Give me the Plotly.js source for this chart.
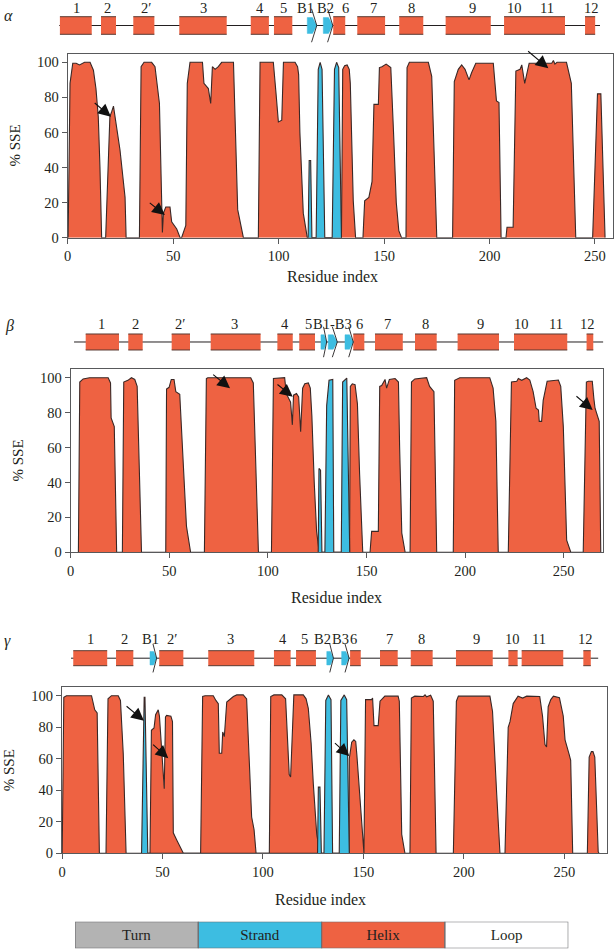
<!DOCTYPE html>
<html><head><meta charset="utf-8">
<script src="https://cdn.plot.ly/plotly-3.0.1.min.js"></script>
<style>html,body{margin:0;padding:0;background:#fff}#chart{width:614px;height:949px}</style>
</head><body><div id="chart"></div>
<script>
// ===== DATA (residue index, % SSE) =====
const alphaHelix = [[0.2,0],[1.1,88],[2.4,99.5],[4,99.5],[5.6,98.5],[8,100],[10.6,100],[12.2,95.5],[13.4,85],[14.5,69],[15.3,40],[16.1,0],
 [18,0],[20,69],[20.9,72],[21.7,75],[24.8,50],[27.2,23],[27.7,0],
 [34,0],[34.8,97.5],[36.2,100],[39.8,100],[41.4,97.5],[43.5,76.5],[44.9,3],[45.4,14],[46.5,17.5],[48.5,17.5],[49.3,9],[51.7,5],[53.3,0],
 [54,0],[54.8,3],[56,7],[56.7,88],[58,100],[63.9,100],[64.6,88],[66.7,85],[67.8,76.5],[68.6,97.5],[69.9,96],[71.4,97.5],[73,100],[78.6,100],[80.6,16],[83.3,0],
 [90.4,0],[91.2,100],[97.5,100],[98.8,82],[99.9,66],[101.5,67],[102.3,100],[107.8,100],[109,97.5],[109.5,93],[110.1,60],[111.7,14],[113.3,2.5],[113.6,0],
 [129.8,0],[130.4,96],[131.3,98],[132.5,98.5],[133.5,96],[134,88],[135.4,21],[136.5,0],
 [140,0],[140.8,21],[142.8,23],[144.3,32],[145.2,76],[147.3,76],[147.8,97],[149,97.5],[151,99],[153.2,97],[154.5,60],[155.8,20],[157,4],[158.3,0],
 [160.4,0],[160.9,97],[162,100],[171,100],[172.6,92],[175,0],
 [182.5,0],[183.3,89],[185.2,96],[186.8,98.5],[188.4,96],[190.3,90],[191.5,94],[193.5,99.5],[201.8,99.5],[203.3,78],[204.5,77],[205.5,0],
 [207.8,0],[208.3,6],[211.2,6],[212.5,95],[214.5,96],[215.3,98.5],[216.7,88],[218.8,99.5],[229.5,99.5],[230.3,101],[231,99],[232,100],[236.5,100],[238.8,88],[240.9,0],
 [248.9,0],[251.2,82],[252.8,82],[254.8,0]];
const alphaStrand = [[114,0],[114.5,44],[115.2,44],[115.8,0],
 [117.8,0],[118.8,96],[119.7,100],[120.6,96],[121.9,0],
 [125.4,0],[126.5,96],[127.5,100],[128.5,97],[129.8,0]];

const betaHelix = [[3.9,0],[4.6,97.5],[6.3,99.3],[9.5,100],[19,100],[20.2,97],[20.5,77],[21.6,74],[22.1,72],[23.3,0],
 [26.2,0],[26.9,97.5],[29,98.5],[30.8,100],[32.5,99],[33.7,95],[35.9,0],
 [48.2,0],[48.6,93.5],[49.9,94.5],[51,99],[52.4,99],[53.3,92],[55.3,90.5],[58.7,15],[60.8,0],
 [67.8,0],[68.8,99.5],[69.5,100],[91.3,100],[92.6,97],[95.2,0],
 [101.8,0],[102.8,99.5],[108.5,100],[109.3,91],[110.5,88],[111.5,86],[112.4,73],[113,90],[114.5,91],[115.6,89],[116.6,69],[117.6,94],[118.7,96.5],[120.5,97],[121.5,94],[122.3,78],[123.5,40],[124.7,12],[126,0],
 [141.4,0],[141.8,95],[142.8,96.5],[144.2,96],[145.4,85],[146.5,45],[148.1,0],
 [151.8,0],[152.6,12],[156,12],[156.7,95],[157.7,95.5],[159.4,99],[160.2,94],[161.6,99],[164.5,99.5],[166.2,97.5],[166.8,60],[167.9,11],[169.6,0],
 [172.1,0],[172.8,97.5],[174.5,99.3],[180.5,100],[182,95],[184.2,92],[185.6,0],
 [194,0],[194.7,98.5],[197.3,100],[212.5,100],[214.2,94],[215.6,75],[216.8,0],
 [221.9,0],[223.5,97.5],[226.2,98],[227,99.5],[228.7,98.5],[231.2,100],[232.8,98.7],[234.5,92],[236,82.5],[237.2,81.5],[237.6,75],[238.8,75],[239.6,87],[241.6,98],[247.3,98.7],[248.5,95],[249.8,72],[251.5,7],[253.6,0],
 [259.9,0],[261.5,97.5],[262.5,98],[264.5,98],[265.3,88],[265.9,82.5],[268,75],[268.8,0]];
const betaStrand = [[125.5,0],[125.9,48],[126.7,47],[127.4,0],
 [128.9,0],[129.8,84],[131,98.5],[132.9,99],[133.4,0],
 [137.2,0],[137.9,97.5],[140,99.8],[141.5,0]];

const gammaHelix = [[0.1,0],[0.9,99],[2.2,100],[14.7,100],[16.3,91],[17.5,89],[18.6,0],
 [21.9,0],[22.9,98],[24.6,100],[28,100],[29.1,97],[30.5,63],[31.9,0],
 [43.8,0],[44.5,78],[45.8,79.5],[46.6,88],[47.9,91],[48.5,87],[50.9,41],[51.5,86.5],[52.1,87.5],[54.2,87],[55,83.5],[55.4,13],[57.1,8.5],[58.7,4],[60.4,0],
 [69,0],[70,99.5],[71.2,100],[75.3,100],[76.6,97],[77.8,95],[78.3,63.5],[79.5,63.5],[80,77],[80.8,74],[82,96],[83.3,97.5],[85.3,99.5],[87,100.5],[90.2,100.5],[91.9,98],[94.4,23],[95.6,15],[96.6,0],
 [103.2,0],[103.9,99.5],[105.5,100.5],[109.4,100.5],[111.3,98],[112.6,55],[113.1,50],[113.8,48.5],[115.4,100.5],[120.1,100.5],[121.5,98],[122.6,92],[124,70],[125.1,44],[126.8,12],[128.4,0],
 [142.9,0],[143,60],[144.2,70.5],[145.3,72],[146.2,71],[146.8,62],[148.3,34],[150,0],
 [150.3,0],[151.1,97.5],[154.1,97.5],[154.6,98.5],[155.3,81],[157.4,81],[158.3,96.5],[160.7,99.7],[167.3,99.7],[167.9,96.5],[168.6,50],[169.1,12],[170.7,0],
 [173.2,0],[173.9,98.5],[175.6,99.7],[179.9,99.5],[180.7,100.5],[181.5,99.3],[183.5,100.3],[184.8,96.5],[185.5,50],[186.2,0],
 [194.8,0],[196.3,96.5],[197.3,99.7],[213,99.7],[214.3,90],[215.2,65],[216.4,37],[218,0],
 [220.5,0],[222.1,80],[223,83.5],[224.6,95],[227,99.7],[229.3,98.5],[231.3,99.7],[237.8,99.5],[239.2,87],[240.4,69],[241.2,67.5],[242,93],[243.3,97.5],[244.6,99.7],[247.6,98.7],[249.5,87],[250.4,72],[252.5,62.5],[253.2,59],[254.2,0],
 [261.5,0],[262.4,61],[263.5,64.5],[264.3,64.5],[265.2,61],[266.9,1],[267.3,0]];
const gammaStrand = [[39.6,0],[40.9,99],[41.3,99],[42.7,0],
 [127.2,0],[127.6,42],[128.4,42],[129.1,0],
 [130.4,0],[131.3,97],[132.6,100.5],[133.9,97.5],[134.7,0],
 [138,0],[138.8,97],[140.5,100.5],[141.7,97.5],[143,0]];

// secondary-structure schematics (residue start, end)
const alphaBackbone = [-4, 252.4];
const alphaHelixSeg = [[-3.7,11.4],[15.8,22.9],[31.1,41.1],[52.9,75.4],[86.8,95.4],[97.8,106.5],[125.9,131.6],[137.3,150.5],[157.2,168.6],[179.2,200.6],[206.9,235.8],[245.3,250.1]];
const alphaStrandSeg = [[113.6,118.1],[121.2,125.7]];
const alphaLabels = ['1','2','2\u2032','3','4','5','B1','B2','6','7','8','9','10','11','12'];
const alphaLabelPos = [4.3,18.8,37,64.6,91.2,102.2,112.8,122,131.5,145.2,163.1,191.8,212,227.4,248.5];

const betaBackbone = [1.7, 270];
const betaHelixSeg = [[7.6,24.5],[29.2,36.5],[51.2,60.5],[71,96.3],[104.8,112.6],[115.9,123.9],[143.3,148.9],[154.3,168.4],[174.6,185.6],[196.2,217.2],[224.8,251.8],[261.6,265]];
const betaStrandSeg = [[126.9,129.8],[130.6,135.2],[139.1,143.3]];
const betaLabels = ['1','2','2\u2032','3','4','5','B1-B3','6','7','8','9','10','11','12'];
const betaLabelPos = [15.7,33,55.4,83.3,108.7,120.5,132.8,146.3,160.8,179.7,207.6,228.7,246.1,262];

const gammaBackbone = [4.5, 266.9];
const gammaHelixSeg = [[5.6,22.5],[26.9,35.5],[48.4,60.4],[72.8,95.7],[105.5,113.8],[116.5,126.4],[143.4,148.7],[158.3,167.1],[173.6,184.5],[196.1,214.4],[222.2,226.8],[228.8,249.5],[259.5,263.2]];
const gammaStrandSeg = [[43.8,47.1],[131.8,135.1],[139.2,142.9]];
const gammaLabels = ['1','2','B1','2\u2032','3','4','5','B2','B3','6','7','8','9','10','11','12'];
const gammaLabelPos = [14.3,31,44.1,54.6,84,109.8,120.9,129.7,138.4,145.3,162.9,179,206.4,224.3,237.6,260.8];

// arrows: tail (x,y) -> head (x,y)
const alphaArrowTail = [[12.1,77.5],[38.2,20.5],[217.6,107]];
const alphaArrowHead = [[20.5,69],[46.1,12.9],[227.9,96.6]];
const betaArrowTail = [[71.5,102.5],[104.1,96.8],[255.7,90.1]];
const betaArrowHead = [[80.8,93.9],[112.6,89.1],[264.7,81.5]];
const gammaArrowTail = [[31.4,94.1],[44.6,69.8],[135.1,70.8]];
const gammaArrowHead = [[40.8,84.1],[52.9,60.3],[143,61.7]];

const xTicks = [0,50,100,150,200,250];
const yTicks = [0,20,40,60,80,100];
const legendLabels = ['Turn','Strand','Helix','Loop'];
const legendColors = ['#b3b3b3','#3dbde1','#ee6242','#ffffff'];

// ===== STYLE / LAYOUT =====
const W=614, H=949;
const HELIX='#ee6242', STRAND='#3dbde1', OUT='#3a2826', AX='#58595b';
const FONT="'Liberation Serif','DejaVu Serif',serif";
const fx=p=>p/W, fy=p=>1-p/H;

const panels = [
 {name:'\u03b1', helix:alphaHelix, strand:alphaStrand, bb:alphaBackbone, hs:alphaHelixSeg, ss:alphaStrandSeg, lab:alphaLabels, lp:alphaLabelPos, at:alphaArrowTail, ah:alphaArrowHead,
  x0:67.7, x1:613, s:2.109, top:54, bot:237.7, ys:1.754, sTop:16.7, sBot:34.3, lshift:0, greek:[8.5,15], tx:332, ty:276},
 {name:'\u03b2', helix:betaHelix, strand:betaStrand, bb:betaBackbone, hs:betaHelixSeg, ss:betaStrandSeg, lab:betaLabels, lp:betaLabelPos, at:betaArrowTail, ah:betaArrowHead,
  x0:70.7, x1:603.3, s:1.972, top:369.3, bot:552.3, ys:1.746, sTop:334, sBot:350, lshift:1, greek:[9,326], tx:336, ty:597},
 {name:'\u03b3', helix:gammaHelix, strand:gammaStrand, bb:gammaBackbone, hs:gammaHelixSeg, ss:gammaStrandSeg, lab:gammaLabels, lp:gammaLabelPos, at:gammaArrowTail, ah:gammaArrowHead,
  x0:62, x1:607.3, s:2.009, top:687.3, bot:853.3, ys:1.576, sTop:650.7, sBot:665.7, lshift:2.5, greek:[7.5,641], tx:320, ty:899}
];

const traces=[], annotations=[];
const layout = {width:W, height:H, margin:{l:0,r:0,t:0,b:0}, paper_bgcolor:'#fff', plot_bgcolor:'rgba(0,0,0,0)',
  showlegend:false, barmode:'overlay', font:{family:FONT, color:'#231f20'}};

panels.forEach((p,i)=>{
  const xa='x'+(i===0?'':(i+1)), ya='y'+(i===0?'':(i+1));
  const xs='x'+(i+4), ys='y'+(i+4);
  const xKey='xaxis'+(i===0?'':(i+1)), yKey='yaxis'+(i===0?'':(i+1));
  layout[xKey]={domain:[fx(p.x0),fx(p.x1)], range:[0,(p.x1-p.x0)/p.s], anchor:ya, showgrid:false, zeroline:false,
    showline:true, mirror:true, linecolor:AX, linewidth:1, ticks:'outside', ticklen:5, tickcolor:AX, tickwidth:1,
    tickvals:xTicks, tickfont:{family:FONT,size:14.5,color:'#231f20'}};
  layout[yKey]={domain:[fy(p.bot),fy(p.top)], range:[0,(p.bot-p.top)/p.ys], anchor:xa, showgrid:false, zeroline:false,
    showline:true, mirror:true, linecolor:AX, linewidth:1, ticks:'outside', ticklen:5, tickcolor:AX, tickwidth:1,
    tickvals:yTicks, tickfont:{family:FONT,size:14.5,color:'#231f20'}};
  const h=p.sBot-p.sTop;
  layout['xaxis'+(i+4)]={domain:[0,1], range:[(0-p.x0)/p.s,(W-p.x0)/p.s], anchor:ys, visible:false};
  layout['yaxis'+(i+4)]={domain:[fy(p.sBot+0.6*h),fy(p.sTop-0.6*h)], range:[-0.6,1.6], anchor:xs, visible:false};

  // area traces
  traces.push({type:'scatter', mode:'lines', x:p.helix.map(d=>d[0]), y:p.helix.map(d=>d[1]), fill:'tozeroy', fillcolor:HELIX,
    line:{color:OUT,width:1.1}, xaxis:xa, yaxis:ya, hoverinfo:'skip'});
  traces.push({type:'scatter', mode:'lines', x:p.strand.map(d=>d[0]), y:p.strand.map(d=>d[1]), fill:'tozeroy', fillcolor:STRAND,
    line:{color:OUT,width:1.1}, xaxis:xa, yaxis:ya, hoverinfo:'skip'});

  // schematic
  traces.push({type:'scatter', mode:'lines', x:p.bb, y:[0.5,0.5], line:{color:'#231f20',width:1}, xaxis:xs, yaxis:ys, hoverinfo:'skip'});
  const rx=[], ry=[], bx=[], by=[];
  p.hs.forEach(([s,e])=>{rx.push(s,s,e,e,s,null); ry.push(0,1,1,0,0,null); bx.push(s,e,null,s,e,null); by.push(1,1,null,0,0,null);});
  traces.push({type:'scatter', mode:'lines', x:rx, y:ry, fill:'toself', fillcolor:HELIX, line:{width:0,color:HELIX}, xaxis:xs, yaxis:ys, hoverinfo:'skip'});
  traces.push({type:'scatter', mode:'lines', x:bx, y:by, line:{color:'#5a3a32',width:1}, xaxis:xs, yaxis:ys, hoverinfo:'skip'});
  const ax=[], ay=[], tx=[], ty=[];
  p.ss.forEach(([s,e])=>{const w=e-s; ax.push(s,s,s+0.55*w,e,s+0.55*w,s,null); ay.push(0.05,0.95,0.95,0.5,0.05,0.05,null);
    tx.push(s+0.45*w,e,s+0.45*w,null); ty.push(1.45,0.5,-0.45,null);});
  traces.push({type:'scatter', mode:'lines', x:ax, y:ay, fill:'toself', fillcolor:STRAND, line:{width:0.5,color:STRAND}, xaxis:xs, yaxis:ys, hoverinfo:'skip'});
  traces.push({type:'scatter', mode:'lines', x:tx, y:ty, line:{color:'#231f20',width:0.9}, xaxis:xs, yaxis:ys, hoverinfo:'skip'});
  p.lab.forEach((t,k)=>annotations.push({text:t, x:p.lp[k], y:1, xref:xs, yref:ys, xanchor:'center', yanchor:'bottom', yshift:p.lshift,
    borderpad:0, showarrow:false, font:{family:FONT,size:14.5,color:'#231f20'}}));

  // arrows
  p.ah.forEach((hd,k)=>annotations.push({x:hd[0], y:hd[1], ax:p.at[k][0], ay:p.at[k][1], xref:xa, yref:ya, axref:xa, ayref:ya,
    showarrow:true, arrowhead:2, arrowsize:2.3, arrowwidth:1.1, arrowcolor:'#111', standoff:0, text:''}));

  // titles
  annotations.push({text:'% SSE', textangle:-90, x:fx(p.x0-53), y:fy((p.top+p.bot)/2), xref:'paper', yref:'paper',
    xanchor:'center', yanchor:'middle', showarrow:false, font:{family:FONT,size:15,color:'#231f20'}});
  annotations.push({text:'Residue index', x:fx(p.tx), y:fy(p.ty), xref:'paper', yref:'paper',
    xanchor:'center', yanchor:'middle', showarrow:false, font:{family:FONT,size:16,color:'#231f20'}});
  annotations.push({text:'<i>'+p.name+'</i>', x:fx(p.greek[0]), y:fy(p.greek[1]), xref:'paper', yref:'paper',
    xanchor:'center', yanchor:'middle', showarrow:false, font:{family:FONT,size:16,color:'#231f20'}});
});

// legend bar
layout.xaxis7={domain:[fx(75),fx(568.3)], range:[0,4], anchor:'y7', visible:false};
layout.yaxis7={domain:[fy(948.3),fy(921.7)], range:[-0.5,0.5], anchor:'x7', visible:false};
traces.push({type:'bar', orientation:'h', y:legendLabels.map(()=>0), x:legendLabels.map(()=>1), base:legendLabels.map((_,k)=>k),
  width:1, marker:{color:legendColors, line:{color:'#6d6e71',width:1.2}}, text:legendLabels, textposition:'inside',
  insidetextanchor:'middle', textangle:0, textfont:{family:FONT,size:15,color:'#231f20'}, xaxis:'x7', yaxis:'y7', hoverinfo:'skip'});

layout.annotations=annotations;
Plotly.newPlot('chart', traces, layout, {staticPlot:true, displayModeBar:false});
</script></body></html>
